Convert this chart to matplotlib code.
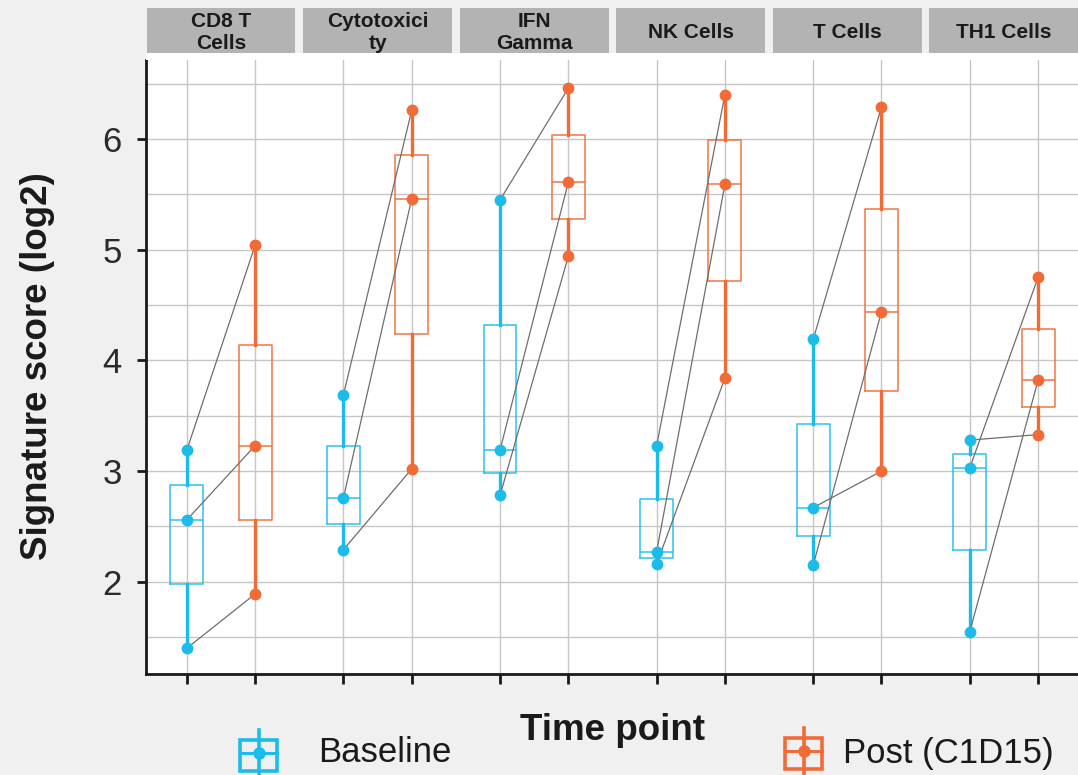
import matplotlib
matplotlib.use("Agg")
import matplotlib.pyplot as plt
import matplotlib.transforms as mtransforms
from matplotlib.patches import Rectangle
from matplotlib.lines import Line2D

plt.rcParams["font.family"] = ["Liberation Sans", "DejaVu Sans"]

# facet labels (wrapped as in the original)
signatures = ["CD8 T\nCells", "Cytotoxici\nty", "IFN\nGamma", "NK Cells", "T Cells", "TH1 Cells"]
groups = ["Baseline", "Post (C1D15)"]

# paired scores per signature: patient k baseline -> patient k post
baseline = [
    [3.19, 2.56, 1.40],
    [3.69, 2.76, 2.29],
    [5.45, 3.19, 2.78],
    [3.23, 2.27, 2.16],
    [4.19, 2.67, 2.15],
    [3.28, 3.03, 1.55],
]
post = [
    [5.04, 3.23, 1.89],
    [6.26, 5.46, 3.02],
    [6.46, 5.61, 4.94],
    [6.40, 5.59, 3.84],
    [6.29, 3.00, 4.44],
    [3.33, 4.75, 3.82],
]

BLUE = "#1BBCEA"
ORANGE = "#F26A36"
BG = "#F0F0F0"
GRID = "#C6C6C6"

W, H = 1078, 775
fig = plt.figure(figsize=(W / 100, H / 100), dpi=100, facecolor=BG)
ax = fig.add_axes([146 / W, 101 / H, 932 / W, 614 / H])
ax.set_facecolor("white")

off = 0.218
n = len(signatures)
pos_b = [i - off for i in range(n)]
pos_p = [i + off for i in range(n)]


def draw_boxes(data, pos, color):
    ax.boxplot(
        data, positions=pos, widths=0.21, whis=(0, 100), showfliers=False,
        showcaps=False, manage_ticks=False, patch_artist=False,
        boxprops=dict(color=color, lw=1.2, alpha=0.85),
        medianprops=dict(color=color, lw=1.2, alpha=0.85),
        whiskerprops=dict(color=color, lw=2.4),
        zorder=3,
    )


draw_boxes(baseline, pos_b, BLUE)
draw_boxes(post, pos_p, ORANGE)

for i in range(n):
    for b, p in zip(baseline[i], post[i]):
        ax.plot([pos_b[i], pos_p[i]], [b, p], color="#6E6E6E", lw=0.9, zorder=4)
    ax.plot([pos_b[i]] * len(baseline[i]), baseline[i], "o", color=BLUE, ms=7.5, zorder=5)
    ax.plot([pos_p[i]] * len(post[i]), post[i], "o", color=ORANGE, ms=7.5, zorder=5)

ax.set_xlim(-0.479, n - 1 + 0.473)
ax.set_ylim(1.167, 6.714)
ax.set_yticks([2, 3, 4, 5, 6])
ax.set_yticks([1.5, 2.5, 3.5, 4.5, 5.5, 6.5], minor=True)
ax.set_xticks(sorted(pos_b + pos_p))
ax.set_xticklabels([])
ax.grid(True, which="both", color=GRID, lw=1.0, zorder=0)
ax.set_axisbelow(True)
ax.tick_params(axis="y", which="major", length=6.5, width=2, pad=11,
               labelsize=25, labelcolor="#2B2B2B", color="#1A1A1A")
ax.tick_params(axis="y", which="minor", length=0)
ax.tick_params(axis="x", length=7, width=2, color="#1A1A1A")
for s in ["top", "right"]:
    ax.spines[s].set_visible(False)
for s in ["left", "bottom"]:
    ax.spines[s].set_color("#1A1A1A")
    ax.spines[s].set_linewidth(2)

# facet strips
blend = mtransforms.blended_transform_factory(ax.transData, fig.transFigure)
for i, lab in enumerate(signatures):
    ax.add_patch(Rectangle((i - 0.4755, 1 - 53 / H), 0.951, 45 / H, transform=blend,
                           facecolor="#B3B3B3", edgecolor="none", clip_on=False))
    ax.text(i, 1 - 32.5 / H, lab, transform=blend, ha="center", va="center",
            fontsize=15, fontweight="bold", color="#1A1A1A", linespacing=1.22)
fig.add_artist(Rectangle((146 / W, 1 - 60 / H), 932 / W, 7 / H, transform=fig.transFigure,
                         facecolor="white", edgecolor="none"))

# axis titles
fig.text(38 / W, 1 - 366 / H, "Signature score (log2)", rotation=90, ha="center", va="center",
         fontsize=26.5, fontweight="bold", color="#1A1A1A")
fig.text(613 / W, 1 - 730 / H, "Time point", ha="center", va="center",
         fontsize=26.5, fontweight="bold", color="#1A1A1A")


# legend (boxplot glyph keys)
def px(x, y):
    return x / W, 1 - y / H


def legend_key(x0, y_top, color, label, tx):
    x1, xc = x0 + 37, x0 + 18.5
    fig.add_artist(Rectangle(px(x0, y_top + 31), 37 / W, 31 / H, transform=fig.transFigure,
                             facecolor="none", edgecolor=color, lw=2.6))
    fig.add_artist(Line2D(*zip(px(xc, y_top - 10), px(xc, 790)), transform=fig.transFigure,
                          color=color, lw=2.6))
    fig.add_artist(Line2D(*zip(px(x0, y_top + 13), px(x1, y_top + 13)), transform=fig.transFigure,
                          color=color, lw=2.2))
    fig.add_artist(Line2D([px(xc, 0)[0]], [px(0, y_top + 13)[1]], marker="o", ms=8,
                          color=color, transform=fig.transFigure))
    fig.text(*px(tx, 753), label, ha="left", va="center", fontsize=25, color="#1A1A1A")


legend_key(240, 740, BLUE, groups[0], 318)
legend_key(785, 738, ORANGE, groups[1], 843)

fig.savefig("out.png", dpi=100, facecolor=BG)
